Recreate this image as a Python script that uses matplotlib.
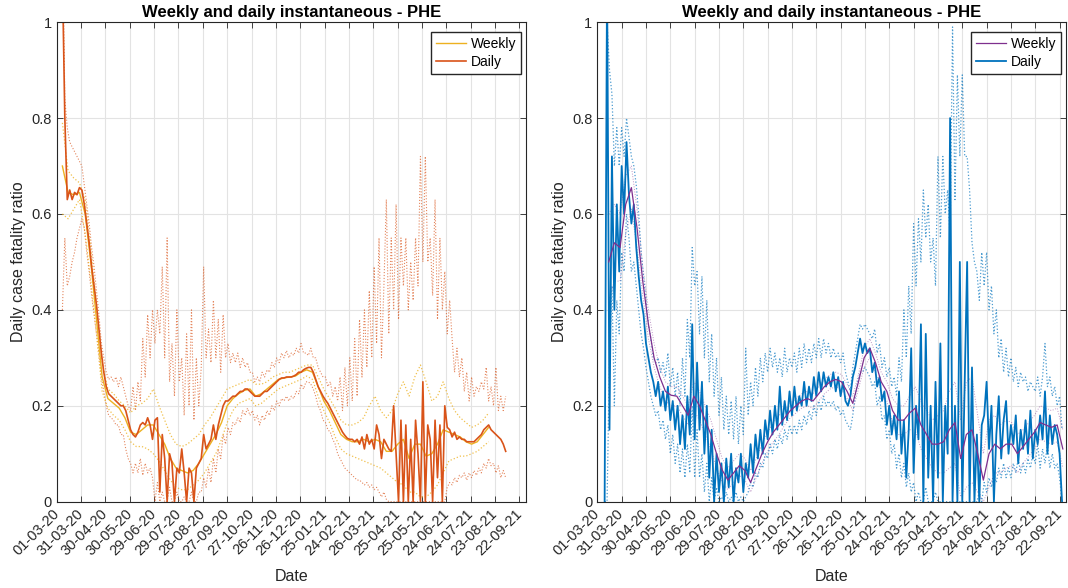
import numpy as np
import matplotlib
matplotlib.use('Agg')
import matplotlib.pyplot as plt
import matplotlib.dates as mdates

plt.rcParams['font.family'] = ['Liberation Sans', 'DejaVu Sans']

# day 0 = 01-03-20
start = np.datetime64('2020-03-01')
x_end_day = 578
tick_days = np.arange(0, 571, 30)

# ---- left panel (PHE, orange) ----
# daily series: every 3 days from day 7
left_daily_first = 7
left_daily = [
    1.10, 0.80, 0.63, 0.65, 0.63, 0.645, 0.64, 0.655, 0.65, 0.62,
    0.58, 0.54, 0.49, 0.45, 0.41, 0.36, 0.31, 0.27, 0.24, 0.225,
    0.22, 0.215, 0.21, 0.205, 0.20, 0.20, 0.19, 0.17, 0.15, 0.14,
    0.135, 0.145, 0.16, 0.165, 0.16, 0.175, 0.16, 0.13, 0.17, 0.175,
    0.02, 0.14, 0.09, 0.00, 0.10, 0.08, 0.00, 0.07, 0.06, 0.11,
    0.06, 0.00, 0.07, 0.06, 0.00, 0.07, 0.08, 0.09, 0.14, 0.11,
    0.12, 0.13, 0.16, 0.13, 0.16, 0.18, 0.20, 0.21, 0.21, 0.215,
    0.22, 0.22, 0.225, 0.23, 0.23, 0.235, 0.235, 0.23, 0.225, 0.22,
    0.22, 0.22, 0.225, 0.23, 0.23, 0.235, 0.24, 0.245, 0.25, 0.255,
    0.258, 0.258, 0.26, 0.26, 0.26, 0.262, 0.265, 0.27, 0.27, 0.275,
    0.278, 0.28, 0.28, 0.27, 0.255, 0.24, 0.23, 0.22, 0.212, 0.205,
    0.195, 0.185, 0.175, 0.165, 0.155, 0.145, 0.138, 0.132, 0.13, 0.13,
    0.125, 0.13, 0.12, 0.135, 0.11, 0.14, 0.12, 0.13, 0.11, 0.16,
    0.14, 0.09, 0.13, 0.12, 0.11, 0.105, 0.20, 0.10, 0.00, 0.17,
    0.00, 0.16, 0.00, 0.13, 0.00, 0.17, 0.10, 0.00, 0.25, 0.00,
    0.16, 0.13, 0.00, 0.17, 0.05, 0.16, 0.00, 0.20, 0.155, 0.15,
    0.135, 0.145, 0.13, 0.135, 0.13, 0.13, 0.125, 0.125, 0.125, 0.125,
    0.13, 0.135, 0.14, 0.15, 0.155, 0.16, 0.15, 0.145, 0.14, 0.135,
    0.13, 0.12, 0.105]
left_daily_hi = [
    1.20, 0.84, 0.78, 0.75, 0.74, 0.73, 0.72, 0.71, 0.70, 0.66,
    0.62, 0.58, 0.53, 0.49, 0.44, 0.39, 0.33, 0.30, 0.27, 0.255,
    0.26, 0.25, 0.26, 0.24, 0.26, 0.24, 0.22, 0.20, 0.19, 0.24,
    0.19, 0.25, 0.21, 0.34, 0.26, 0.39, 0.30, 0.40, 0.33, 0.40,
    0.35, 0.49, 0.30, 0.55, 0.25, 0.33, 0.22, 0.40, 0.25, 0.30,
    0.18, 0.35, 0.20, 0.40, 0.17, 0.30, 0.20, 0.28, 0.49, 0.30,
    0.36, 0.29, 0.42, 0.30, 0.38, 0.27, 0.39, 0.30, 0.33, 0.29,
    0.31, 0.29, 0.31, 0.28, 0.30, 0.28, 0.29, 0.27, 0.27, 0.25,
    0.26, 0.25, 0.27, 0.26, 0.275, 0.27, 0.29, 0.28, 0.30, 0.29,
    0.31, 0.30, 0.315, 0.30, 0.31, 0.305, 0.32, 0.31, 0.33, 0.31,
    0.31, 0.305, 0.32, 0.30, 0.30, 0.28, 0.27, 0.26, 0.26, 0.24,
    0.25, 0.22, 0.24, 0.21, 0.26, 0.19, 0.28, 0.20, 0.30, 0.21,
    0.34, 0.22, 0.38, 0.26, 0.40, 0.28, 0.44, 0.30, 0.49, 0.33,
    0.55, 0.30, 0.45, 0.63, 0.35, 0.55, 0.40, 0.62, 0.38, 0.55,
    0.45, 0.55, 0.40, 0.50, 0.42, 0.55, 0.45, 0.72, 0.50, 0.72,
    0.50, 0.55, 0.43, 0.63, 0.38, 0.55, 0.40, 0.48, 0.35, 0.42,
    0.34, 0.27, 0.32, 0.26, 0.30, 0.23, 0.27, 0.21, 0.26, 0.22,
    0.24, 0.23, 0.25, 0.235, 0.28, 0.21, 0.24, 0.20, 0.28, 0.19,
    0.22, 0.19, 0.22]
left_daily_lo = [
    0.40, 0.55, 0.45, 0.47, 0.50, 0.52, 0.55, 0.57, 0.59, 0.57,
    0.52, 0.48, 0.43, 0.39, 0.35, 0.31, 0.26, 0.23, 0.20, 0.18,
    0.175, 0.17, 0.16, 0.16, 0.14, 0.14, 0.11, 0.09, 0.08, 0.06,
    0.08, 0.06, 0.09, 0.055, 0.08, 0.06, 0.07, 0.05, 0.00, 0.04,
    0.00, 0.02, 0.00, 0.00, 0.03, 0.00, 0.00, 0.02, 0.00, 0.00,
    0.01, 0.00, 0.00, 0.02, 0.00, 0.00, 0.02, 0.02, 0.05, 0.03,
    0.07, 0.04, 0.09, 0.06, 0.11, 0.09, 0.14, 0.12, 0.155, 0.14,
    0.165, 0.16, 0.175, 0.165, 0.19, 0.18, 0.195, 0.18, 0.19, 0.17,
    0.18, 0.16, 0.18, 0.17, 0.19, 0.18, 0.20, 0.19, 0.21, 0.20,
    0.215, 0.21, 0.22, 0.21, 0.22, 0.215, 0.23, 0.225, 0.245, 0.235,
    0.25, 0.25, 0.245, 0.235, 0.22, 0.20, 0.19, 0.17, 0.165, 0.15,
    0.145, 0.13, 0.12, 0.10, 0.09, 0.08, 0.07, 0.065, 0.06, 0.055,
    0.05, 0.045, 0.045, 0.04, 0.035, 0.04, 0.03, 0.035, 0.025, 0.03,
    0.02, 0.01, 0.02, 0.005, 0.00, 0.00, 0.00, 0.00, 0.00, 0.00,
    0.00, 0.00, 0.00, 0.00, 0.00, 0.00, 0.00, 0.00, 0.00, 0.00,
    0.00, 0.00, 0.00, 0.00, 0.00, 0.00, 0.00, 0.00, 0.03, 0.04,
    0.035, 0.05, 0.04, 0.055, 0.05, 0.06, 0.045, 0.06, 0.05, 0.065,
    0.055, 0.07, 0.06, 0.08, 0.07, 0.09, 0.075, 0.08, 0.06, 0.075,
    0.05, 0.065, 0.05]
# weekly series: every 7 days from day 7
left_weekly_first = 7
left_weekly = [
    0.70, 0.645, 0.64, 0.645, 0.60, 0.50, 0.38, 0.26, 0.215, 0.205,
    0.195, 0.175, 0.145, 0.14, 0.15, 0.16, 0.16, 0.14, 0.12, 0.09,
    0.07, 0.065, 0.06, 0.065, 0.08, 0.10, 0.12, 0.14, 0.165, 0.20,
    0.215, 0.225, 0.232, 0.235, 0.22, 0.225, 0.235, 0.245, 0.255, 0.258,
    0.26, 0.262, 0.27, 0.275, 0.27, 0.24, 0.21, 0.19, 0.165, 0.14,
    0.13, 0.125, 0.125, 0.13, 0.125, 0.13, 0.125, 0.105, 0.105, 0.12,
    0.13, 0.09, 0.12, 0.12, 0.095, 0.10, 0.12, 0.15, 0.145, 0.14,
    0.135, 0.125, 0.12, 0.125, 0.14, 0.155]
left_weekly_hi = [
    0.79, 0.69, 0.675, 0.665, 0.63, 0.53, 0.41, 0.29, 0.235, 0.225,
    0.21, 0.20, 0.185, 0.20, 0.205, 0.215, 0.235, 0.20, 0.17, 0.14,
    0.12, 0.115, 0.12, 0.13, 0.14, 0.16, 0.175, 0.195, 0.215, 0.235,
    0.24, 0.245, 0.25, 0.255, 0.245, 0.245, 0.25, 0.26, 0.265, 0.27,
    0.27, 0.275, 0.28, 0.285, 0.285, 0.26, 0.235, 0.215, 0.195, 0.17,
    0.16, 0.16, 0.165, 0.175, 0.20, 0.22, 0.19, 0.175, 0.19, 0.225,
    0.25, 0.22, 0.26, 0.285, 0.25, 0.21, 0.22, 0.25, 0.215, 0.19,
    0.175, 0.165, 0.155, 0.16, 0.17, 0.185]
left_weekly_lo = [
    0.60, 0.59, 0.61, 0.63, 0.56, 0.46, 0.35, 0.23, 0.195, 0.18,
    0.17, 0.15, 0.125, 0.115, 0.115, 0.11, 0.10, 0.085, 0.065, 0.045,
    0.03, 0.025, 0.025, 0.035, 0.045, 0.06, 0.08, 0.10, 0.13, 0.165,
    0.19, 0.205, 0.21, 0.215, 0.20, 0.205, 0.215, 0.225, 0.235, 0.24,
    0.245, 0.25, 0.255, 0.262, 0.255, 0.22, 0.19, 0.165, 0.135, 0.11,
    0.10, 0.095, 0.09, 0.085, 0.08, 0.075, 0.07, 0.06, 0.05, 0.04,
    0.035, 0.02, 0.02, 0.01, 0.01, 0.02, 0.035, 0.06, 0.085, 0.09,
    0.095, 0.095, 0.10, 0.105, 0.115, 0.125]

# ---- right panel (blue / purple) ----
right_daily_first = 9
right_daily = [
    0.00, 1.10, 0.15, 0.72, 0.40, 0.62, 0.48, 0.70, 0.60, 0.75,
    0.64, 0.58, 0.62, 0.53, 0.47, 0.42, 0.39, 0.33, 0.30, 0.27,
    0.25, 0.22, 0.25, 0.20, 0.23, 0.19, 0.24, 0.17, 0.21, 0.15,
    0.20, 0.12, 0.18, 0.11, 0.22, 0.14, 0.37, 0.13, 0.29, 0.15,
    0.25, 0.10, 0.20, 0.05, 0.15, 0.00, 0.10, 0.02, 0.08, 0.00,
    0.09, 0.03, 0.10, 0.00, 0.07, 0.04, 0.10, 0.02, 0.08, 0.05,
    0.12, 0.06, 0.14, 0.09, 0.15, 0.10, 0.17, 0.13, 0.19, 0.14,
    0.20, 0.15, 0.24, 0.16, 0.21, 0.17, 0.23, 0.18, 0.24, 0.19,
    0.22, 0.20, 0.25, 0.20, 0.24, 0.21, 0.26, 0.22, 0.27, 0.23,
    0.27, 0.24, 0.26, 0.24, 0.27, 0.23, 0.26, 0.22, 0.25, 0.21,
    0.20, 0.22, 0.26, 0.28, 0.31, 0.34, 0.31, 0.33, 0.31, 0.32,
    0.27, 0.29, 0.24, 0.26, 0.21, 0.23, 0.16, 0.20, 0.14, 0.18,
    0.13, 0.23, 0.10, 0.17, 0.05, 0.15, 0.32, 0.06, 0.20, 0.13,
    0.37, 0.00, 0.35, 0.05, 0.20, 0.00, 0.25, 0.05, 0.33, 0.00,
    0.20, 0.10, 0.80, 0.00, 0.20, 0.00, 0.50, 0.00, 0.25, 0.50,
    0.00, 0.28, 0.00, 0.14, 0.00, 0.16, 0.18, 0.25, 0.11, 0.20,
    0.00, 0.14, 0.22, 0.09, 0.17, 0.21, 0.10, 0.16, 0.12, 0.18,
    0.08, 0.15, 0.11, 0.17, 0.10, 0.19, 0.09, 0.15, 0.12, 0.18,
    0.13, 0.23, 0.10, 0.18, 0.12, 0.16, 0.14, 0.10, 0.00]
right_daily_hi = [
    1.10, 1.00, 0.90, 0.85, 0.70, 0.78, 0.70, 0.78, 0.72, 0.80,
    0.76, 0.72, 0.70, 0.66, 0.60, 0.52, 0.47, 0.42, 0.37, 0.34,
    0.30, 0.29, 0.30, 0.27, 0.29, 0.26, 0.31, 0.24, 0.28, 0.22,
    0.27, 0.20, 0.30, 0.22, 0.38, 0.30, 0.53, 0.45, 0.48, 0.35,
    0.47, 0.30, 0.42, 0.25, 0.35, 0.22, 0.30, 0.18, 0.26, 0.15,
    0.22, 0.14, 0.21, 0.13, 0.22, 0.12, 0.20, 0.14, 0.32, 0.18,
    0.25, 0.20, 0.28, 0.22, 0.30, 0.25, 0.31, 0.27, 0.32, 0.28,
    0.31, 0.27, 0.30, 0.26, 0.32, 0.27, 0.30, 0.28, 0.31, 0.27,
    0.32, 0.28, 0.33, 0.29, 0.32, 0.29, 0.33, 0.30, 0.34, 0.30,
    0.34, 0.31, 0.33, 0.30, 0.32, 0.30, 0.31, 0.29, 0.31, 0.27,
    0.25, 0.23, 0.28, 0.31, 0.34, 0.37, 0.36, 0.37, 0.36, 0.35,
    0.34, 0.36, 0.31, 0.33, 0.28, 0.30, 0.26, 0.28, 0.24, 0.26,
    0.22, 0.30, 0.25, 0.40, 0.30, 0.45, 0.35, 0.58, 0.45, 0.59,
    0.50, 0.65, 0.55, 0.62, 0.50, 0.55, 0.45, 0.72, 0.55, 0.72,
    0.60, 0.65, 0.55, 0.99, 0.63, 0.89, 0.72, 0.89, 0.72, 0.72,
    0.65, 0.54, 0.50, 0.48, 0.42, 0.52, 0.45, 0.52, 0.40, 0.45,
    0.35, 0.40, 0.30, 0.34, 0.27, 0.32, 0.26, 0.30, 0.25, 0.28,
    0.24, 0.27, 0.25, 0.26, 0.23, 0.25, 0.24, 0.23, 0.26, 0.22,
    0.26, 0.33, 0.24, 0.26, 0.22, 0.24, 0.20, 0.22, 0.15]
right_daily_lo = [
    0.00, 0.00, 0.30, 0.45, 0.20, 0.42, 0.35, 0.52, 0.48, 0.60,
    0.55, 0.48, 0.50, 0.45, 0.40, 0.35, 0.32, 0.28, 0.25, 0.22,
    0.20, 0.18, 0.19, 0.15, 0.17, 0.13, 0.16, 0.10, 0.14, 0.08,
    0.12, 0.06, 0.11, 0.05, 0.12, 0.06, 0.20, 0.05, 0.15, 0.05,
    0.10, 0.02, 0.08, 0.00, 0.05, 0.00, 0.03, 0.00, 0.01, 0.00,
    0.02, 0.00, 0.01, 0.00, 0.02, 0.00, 0.01, 0.00, 0.01, 0.02,
    0.04, 0.03, 0.06, 0.05, 0.08, 0.07, 0.10, 0.09, 0.12, 0.10,
    0.13, 0.11, 0.14, 0.12, 0.15, 0.13, 0.16, 0.14, 0.16, 0.14,
    0.17, 0.15, 0.18, 0.16, 0.19, 0.17, 0.20, 0.18, 0.21, 0.19,
    0.22, 0.20, 0.21, 0.20, 0.21, 0.19, 0.20, 0.18, 0.19, 0.17,
    0.16, 0.15, 0.18, 0.22, 0.25, 0.27, 0.27, 0.28, 0.27, 0.26,
    0.24, 0.25, 0.20, 0.22, 0.17, 0.18, 0.13, 0.15, 0.10, 0.12,
    0.07, 0.10, 0.05, 0.08, 0.03, 0.06, 0.02, 0.04, 0.00, 0.02,
    0.00, 0.00, 0.03, 0.00, 0.00, 0.00, 0.02, 0.00, 0.00, 0.00,
    0.00, 0.00, 0.00, 0.00, 0.00, 0.00, 0.00, 0.00, 0.00, 0.00,
    0.00, 0.00, 0.00, 0.00, 0.02, 0.00, 0.04, 0.02, 0.05, 0.03,
    0.06, 0.04, 0.07, 0.05, 0.08, 0.05, 0.07, 0.05, 0.08, 0.06,
    0.09, 0.06, 0.08, 0.06, 0.09, 0.07, 0.10, 0.08, 0.12, 0.07,
    0.11, 0.08, 0.12, 0.07, 0.10, 0.07, 0.08, 0.05, 0.00]
right_weekly_first = 14
right_weekly = [
    0.50, 0.54, 0.53, 0.62, 0.655, 0.57, 0.46, 0.37, 0.30, 0.26,
    0.23, 0.222, 0.22, 0.20, 0.18, 0.22, 0.20, 0.17, 0.14, 0.10,
    0.066, 0.045, 0.06, 0.075, 0.065, 0.04, 0.07, 0.10, 0.125, 0.145,
    0.16, 0.175, 0.19, 0.20, 0.21, 0.215, 0.21, 0.225, 0.24, 0.25,
    0.255, 0.25, 0.23, 0.205, 0.25, 0.30, 0.32, 0.29, 0.25, 0.23,
    0.19, 0.17, 0.17, 0.185, 0.195, 0.16, 0.14, 0.12, 0.12, 0.125,
    0.15, 0.165, 0.09, 0.14, 0.15, 0.10, 0.045, 0.10, 0.12, 0.11,
    0.12, 0.12, 0.10, 0.115, 0.13, 0.145, 0.165, 0.16, 0.155, 0.16,
    0.11]
right_weekly_hi = [
    0.60, 0.62, 0.60, 0.68, 0.70, 0.61, 0.49, 0.40, 0.33, 0.28,
    0.25, 0.24, 0.24, 0.22, 0.20, 0.25, 0.23, 0.20, 0.17, 0.13,
    0.09, 0.07, 0.085, 0.10, 0.09, 0.065, 0.09, 0.12, 0.145, 0.165,
    0.18, 0.19, 0.205, 0.215, 0.225, 0.23, 0.225, 0.24, 0.255, 0.265,
    0.27, 0.265, 0.245, 0.22, 0.265, 0.32, 0.34, 0.31, 0.27, 0.25,
    0.215, 0.20, 0.20, 0.22, 0.24, 0.21, 0.19, 0.17, 0.18, 0.19,
    0.23, 0.25, 0.17, 0.25, 0.26, 0.18, 0.10, 0.17, 0.18, 0.16,
    0.17, 0.165, 0.14, 0.15, 0.165, 0.18, 0.20, 0.195, 0.19, 0.195,
    0.15]
right_weekly_lo = [
    0.42, 0.46, 0.46, 0.56, 0.61, 0.53, 0.43, 0.34, 0.28, 0.24,
    0.21, 0.20, 0.20, 0.18, 0.16, 0.19, 0.17, 0.14, 0.11, 0.07,
    0.04, 0.025, 0.04, 0.055, 0.045, 0.02, 0.05, 0.08, 0.105, 0.125,
    0.14, 0.16, 0.175, 0.185, 0.195, 0.20, 0.195, 0.21, 0.225, 0.235,
    0.24, 0.235, 0.215, 0.19, 0.235, 0.28, 0.30, 0.27, 0.23, 0.21,
    0.165, 0.14, 0.14, 0.15, 0.15, 0.11, 0.09, 0.07, 0.06, 0.06,
    0.07, 0.08, 0.01, 0.03, 0.04, 0.02, 0.00, 0.03, 0.06, 0.06,
    0.07, 0.075, 0.06, 0.08, 0.095, 0.11, 0.13, 0.125, 0.12, 0.125,
    0.07]


def day_axis(first, step, values):
    return start + (first + step * np.arange(len(values))).astype('timedelta64[D]')


def style_axes(ax):
    ax.set_xlim(start, start + np.timedelta64(x_end_day, 'D'))
    ax.set_ylim(0, 1)
    ax.set_xticks(start + tick_days.astype('timedelta64[D]'))
    ax.xaxis.set_major_formatter(mdates.DateFormatter('%d-%m-%y'))
    ax.set_yticks([0, 0.2, 0.4, 0.6, 0.8, 1])
    ax.set_yticklabels(['0', '0.2', '0.4', '0.6', '0.8', '1'])
    ax.tick_params(direction='in', top=True, right=True, length=4, width=0.6,
                   colors='#262626', labelsize=10.5)
    for lab in ax.get_xticklabels():
        lab.set_rotation(45)
        lab.set_ha('right')
        lab.set_rotation_mode('anchor')
        lab.set_va('center')
    ax.tick_params(axis='x', pad=7)
    ax.grid(True, color='#e3e3e3', linewidth=0.8)
    ax.set_axisbelow(True)
    for s in ax.spines.values():
        s.set_color('#262626')
        s.set_linewidth(0.8)
    ax.set_title('Weekly and daily instantaneous - PHE', fontsize=12,
                 fontweight='bold', pad=4)
    ax.set_xlabel('Date', fontsize=11.5, color='#262626', labelpad=8)
    ax.set_ylabel('Daily case fatality ratio', fontsize=11.5, color='#262626', labelpad=4)


fig = plt.figure(figsize=(10.68, 5.88), dpi=100)
ax1 = fig.add_axes([0.0531, 0.1468, 0.4394, 0.8155])
ax2 = fig.add_axes([0.5593, 0.1468, 0.4389, 0.8155])

legend_kw = dict(loc='upper right', bbox_to_anchor=(0.989, 0.98), borderaxespad=0,
                 fontsize=10, fancybox=False, framealpha=1, edgecolor='#262626',
                 borderpad=0.35, labelspacing=0.3, handlelength=2.2,
                 handletextpad=0.3)

# left panel
ld = day_axis(left_daily_first, 3, left_daily)
lw = day_axis(left_weekly_first, 7, left_weekly)
ax1.plot(ld, left_daily_hi, ':', color='#D95319', lw=0.8, alpha=0.7)
ax1.plot(ld, left_daily_lo, ':', color='#D95319', lw=0.8, alpha=0.7)
ax1.plot(lw, left_weekly_hi, ':', color='#EDB120', lw=0.9, alpha=0.8)
ax1.plot(lw, left_weekly_lo, ':', color='#EDB120', lw=0.9, alpha=0.8)
ax1.plot(lw, left_weekly, '-', color='#EDB120', lw=1.0, label='Weekly')
ax1.plot(ld, left_daily, '-', color='#D95319', lw=1.2, label='Daily')
style_axes(ax1)
ax1.legend(**legend_kw)

# right panel
rd = day_axis(right_daily_first, 3, right_daily)
rw = day_axis(right_weekly_first, 7, right_weekly)
ax2.plot(rd, right_daily_hi, ':', color='#0072BD', lw=0.9, alpha=0.7)
ax2.plot(rd, right_daily_lo, ':', color='#0072BD', lw=0.9, alpha=0.7)
ax2.plot(rw, right_weekly_hi, ':', color='#7E2F8E', lw=0.7, alpha=0.5)
ax2.plot(rw, right_weekly_lo, ':', color='#7E2F8E', lw=0.7, alpha=0.5)
daily_line, = ax2.plot(rd, right_daily, '-', color='#0072BD', lw=1.3, label='Daily')
weekly_line, = ax2.plot(rw, right_weekly, '-', color='#7E2F8E', lw=0.9, label='Weekly')
style_axes(ax2)
ax2.legend([weekly_line, daily_line], ['Weekly', 'Daily'], **legend_kw)

fig.savefig('out.png', dpi=100)
